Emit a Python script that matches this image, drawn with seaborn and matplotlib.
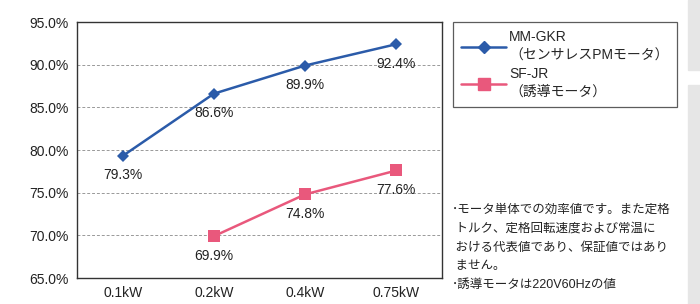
"""Efficiency comparison chart: MM-GKR vs SF-JR."""

import matplotlib

matplotlib.use("Agg")
import matplotlib.pyplot as plt
import numpy as np
import pandas as pd
import seaborn as sns
from matplotlib.lines import Line2D
from matplotlib.patches import Rectangle

CAPACITIES = ["0.1kW", "0.2kW", "0.4kW", "0.75kW"]
MM_GKR = [79.3, 86.6, 89.9, 92.4]
SF_JR = [np.nan, 69.9, 74.8, 77.6]
SERIES = ["MM-GKR", "SF-JR"]
LEGEND_LABELS = ["MM-GKR\n（センサレスPMモータ）", "SF-JR\n（誘導モータ）"]
Y_TICKS = [65, 70, 75, 80, 85, 90, 95]
NOTES = (
    "･モータ単体での効率値です。また定格\n"
    " トルク、定格回転速度および常温に\n"
    " おける代表値であり、保証値ではあり\n"
    " ません。\n"
    "･誘導モータは220V60Hzの値"
)

BLUE = "#2b5ba9"
PINK = "#e9587c"


def main() -> None:
    sns.set_style("white")
    plt.rcParams["font.family"] = ["Liberation Sans", "Noto Sans CJK JP", "DejaVu Sans"]

    df = pd.DataFrame(
        {
            "capacity": CAPACITIES * 2,
            "pos": list(range(len(CAPACITIES))) * 2,
            "efficiency": MM_GKR + SF_JR,
            "series": [SERIES[0]] * 4 + [SERIES[1]] * 4,
        }
    ).dropna()

    fig = plt.figure(figsize=(7.0, 3.04), dpi=100)
    ax = fig.add_axes([77 / 700, 1 - 278 / 304, 365 / 700, 256 / 304])

    sns.lineplot(
        data=df,
        x="pos",
        y="efficiency",
        hue="series",
        style="series",
        markers={"MM-GKR": "D", "SF-JR": "s"},
        dashes=False,
        palette={"MM-GKR": BLUE, "SF-JR": PINK},
        linewidth=1.8,
        markersize=7,
        markeredgewidth=0,
        legend=False,
        ax=ax,
    )
    # shrink diamonds a touch
    ax.lines[0].set_markersize(6)
    ax.lines[1].set_markersize(8)

    for _, row in df.iterrows():
        ax.annotate(
            f"{row.efficiency:.1f}%",
            (row.pos, row.efficiency),
            xytext=(0, -9),
            textcoords="offset points",
            ha="center",
            va="top",
            fontsize=10,
            color="#222222",
        )

    ax.set_xlim(-0.5, len(CAPACITIES) - 0.5)
    ax.set_ylim(65, 95)
    ax.set_yticks(Y_TICKS)
    ax.set_yticklabels([f"{v:.1f}%" for v in Y_TICKS], fontsize=10, color="#222222")
    ax.set_xticks(range(len(CAPACITIES)))
    ax.set_xticklabels(CAPACITIES, fontsize=10, color="#222222")
    ax.tick_params(axis="x", length=0, pad=6)
    ax.tick_params(axis="y", length=0, pad=6)
    ax.set_xticks([0.5, 1.5, 2.5], minor=True)
    ax.tick_params(axis="x", which="minor", direction="in", length=4, color="#333333")
    ax.set_xlabel("")
    ax.set_ylabel("")
    for v in Y_TICKS[1:-1]:
        ax.axhline(v, color="#999999", linestyle=(0, (3, 2)), linewidth=0.7, zorder=0)
    for s in ax.spines.values():
        s.set_color("#333333")
        s.set_linewidth(1.0)

    handles = [
        Line2D([], [], color=BLUE, marker="D", markersize=6, linewidth=1.8),
        Line2D([], [], color=PINK, marker="s", markersize=8, linewidth=1.8),
    ]
    leg = fig.legend(
        handles,
        LEGEND_LABELS,
        loc="upper left",
        bbox_to_anchor=(453 / 700, 1 - 22 / 304),
        frameon=True,
        fancybox=False,
        fontsize=10,
        handlelength=3.2,
        handletextpad=0.25,
        labelspacing=0.35,
        borderpad=0.6,
        borderaxespad=0,
    )
    for t in leg.get_texts():
        t.set_multialignment("left")
        t.set_linespacing(1.35)
    leg.get_frame().set_edgecolor("#333333")
    leg.get_frame().set_linewidth(0.9)

    fig.text(452 / 700, 1 - 204 / 304, NOTES, fontsize=9, va="top", ha="left",
             linespacing=1.75, color="#222222")

    # grey tabs at the right edge
    fig.patches.append(Rectangle((688 / 700, 1 - 70 / 304), 12 / 700, 70 / 304,
                                 transform=fig.transFigure, color="#e6e6e6", zorder=0))
    fig.patches.append(Rectangle((688 / 700, 0), 12 / 700, 1 - 85 / 304,
                                 transform=fig.transFigure, color="#e6e6e6", zorder=0))

    fig.savefig("out.png", dpi=100)
    plt.close(fig)


if __name__ == "__main__":
    main()
